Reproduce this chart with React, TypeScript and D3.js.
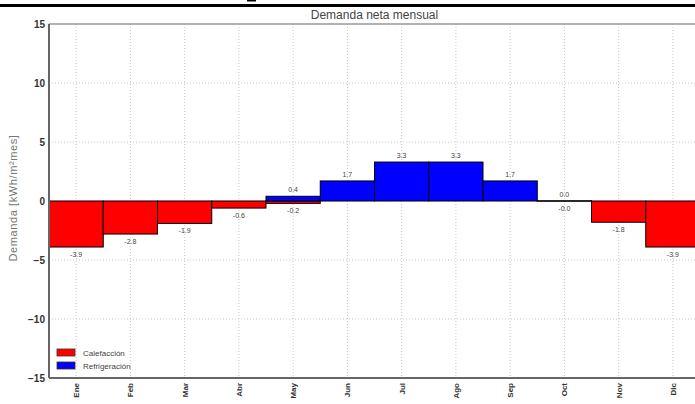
import React from "react";
import * as d3 from "d3";

const months = ["Ene", "Feb", "Mar", "Abr", "May", "Jun", "Jul", "Ago", "Sep", "Oct", "Nov", "Dic"];
const heating = [-3.9, -2.8, -1.9, -0.6, -0.2, 0, 0, 0, 0, -0.01, -1.8, -3.9];
const cooling = [0, 0, 0, 0, 0.4, 1.7, 3.3, 3.3, 1.7, 0.01, 0, 0];
const yTicks = [-15, -10, -5, 0, 5, 10, 15];
const title = "Demanda neta mensual";
const yLabel = "Demanda [kWh/m²mes]";
const legendItems = [
  { name: "Calefacción", color: "#ff0000" },
  { name: "Refrigeración", color: "#0000ff" },
];

const W = 695;
const H = 404;
const left = 49;
const right = 700;
const top = 24;
const bottom = 378;
const font = "'Liberation Sans', Arial, sans-serif";

export default function App() {
  const x = d3.scaleLinear().domain([0.5, 12.5]).range([left, right]);
  const y = d3.scaleLinear().domain([-15, 15]).range([bottom, top]);
  const bw = x(1.5) - x(0.5);
  const fmt = (v: number) => (v < 0 ? "-" : "") + Math.abs(v).toFixed(1);
  const tickFmt = (v: number) => (v < 0 ? "\u2212" + Math.abs(v) : String(v));

  return (
    <svg width={W} height={H} style={{ position: "absolute", left: 0, top: 0, background: "#fff" }}>
      <rect x={0} y={0} width={W} height={H} fill="#fff" />
      {/* top decoration */}
      <line x1={0} x2={W} y1={5.5} y2={5.5} stroke="#000" strokeWidth={3} />
      <rect x={247} y={0} width={9} height={1.5} fill="#000" />
      {/* grid */}
      {months.map((m, i) => (
        <line key={"gx" + m} x1={x(i + 1)} x2={x(i + 1)} y1={top} y2={bottom} stroke="#c8c8c8" strokeWidth={1} strokeDasharray="1,2" />
      ))}
      {yTicks.filter((t) => t !== -15 && t !== 15).map((t) => (
        <line key={"gy" + t} x1={left} x2={right} y1={y(t)} y2={y(t)} stroke="#c8c8c8" strokeWidth={1} strokeDasharray="1,2" />
      ))}
      {/* bars */}
      {heating.map((v, i) =>
        v < 0 ? (
          <rect key={"h" + i} x={x(i + 0.5)} y={y(0)} width={bw} height={y(v) - y(0)} fill="#ff0000" stroke="#000" strokeWidth={1} />
        ) : null
      )}
      {cooling.map((v, i) =>
        v > 0 ? (
          <rect key={"c" + i} x={x(i + 0.5)} y={y(v)} width={bw} height={y(0) - y(v)} fill="#0000ff" stroke="#000" strokeWidth={1} />
        ) : null
      )}
      {/* value labels */}
      {heating.map((v, i) =>
        v < 0 ? (
          <text key={"hl" + i} x={x(i + 1)} y={y(v) + 10} textAnchor="middle" fontSize={7} fill="#444" fontFamily={font}>
            {fmt(v)}
          </text>
        ) : null
      )}
      {cooling.map((v, i) =>
        v > 0 ? (
          <text key={"cl" + i} x={x(i + 1)} y={y(v) - 4} textAnchor="middle" fontSize={7} fill="#444" fontFamily={font}>
            {fmt(v)}
          </text>
        ) : null
      )}
      {/* frame */}
      <line x1={left} x2={W} y1={top} y2={top} stroke="#999" strokeWidth={1.5} />
      <line x1={left} x2={W} y1={bottom} y2={bottom} stroke="#666" strokeWidth={2} />
      <line x1={left} x2={left} y1={top} y2={bottom} stroke="#666" strokeWidth={2} />
      {/* y ticks */}
      {yTicks.map((t) => (
        <text key={"yt" + t} x={left - 4} y={y(t) + 3.5} textAnchor="end" fontSize={10} fontWeight="bold" fill="#333" fontFamily={font}>
          {tickFmt(t)}
        </text>
      ))}
      {/* x ticks */}
      {months.map((m, i) => (
        <text key={"xt" + m} transform={`translate(${x(i + 1) + 3},${bottom + 5}) rotate(-90)`} textAnchor="end" fontSize={8} fontWeight="bold" fill="#333" fontFamily={font}>
          {m}
        </text>
      ))}
      {/* y label */}
      <text transform={`translate(17,${y(0) - 3}) rotate(-90)`} textAnchor="middle" fontSize={11} letterSpacing={0.6} fill="#777" fontFamily={font}>
        {yLabel}
      </text>
      {/* title */}
      <text x={(left + right) / 2} y={19} textAnchor="middle" fontSize={12} fill="#444" fontFamily={font}>
        {title}
      </text>
      {/* legend */}
      {legendItems.map((it, i) => (
        <g key={it.name} transform={`translate(57,${349 + i * 13})`}>
          <rect x={0} y={0} width={18} height={7} fill={it.color} stroke="#333" strokeWidth={0.8} />
          <text x={26} y={7} fontSize={8} fill="#444" fontFamily={font}>
            {it.name}
          </text>
        </g>
      ))}
    </svg>
  );
}
